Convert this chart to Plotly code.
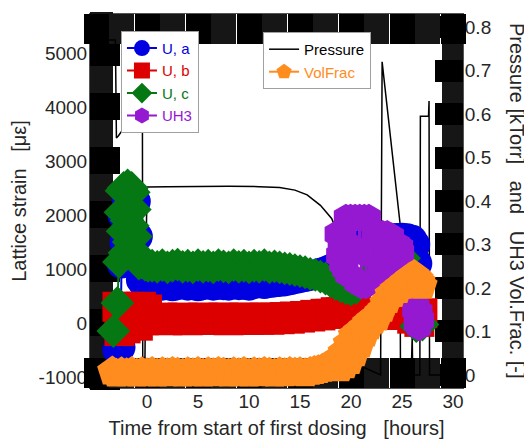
import plotly.graph_objects as go

# ---------------- data ----------------
x_tickvals = [-5, 0, 5, 10, 15, 20, 25, 30]
x_ticktext = ['', '0', '5', '10', '15', '20', '25', '30']
strain_tickvals = [-1000, 0, 1000, 2000, 3000, 4000, 5000]
strain_ticktext = ['-1000', '0', '1000', '2000', '3000', '4000', '5000']
right_tickvals = [0, 0.1, 0.2, 0.3, 0.4, 0.5, 0.6, 0.7, 0.8]
right_ticktext = ['0', '0.1', '0.2', '0.3', '0.4', '0.5', '0.6', '0.7', '0.8']

# Pressure [kTorr]
p_time = [-5.5, -3.1, -3.0, -2.8, -2.4, -1.5, -0.45, -0.42, -0.2, -0.15, 0.0, 2.0, 5.0, 8.0,
          11.0, 13.0, 14.5, 15.7, 17.0, 18.1, 19.0, 20.0, 20.5, 21.0, 22.9, 23.05, 24.8, 24.85,
          25.9, 25.95, 26.0, 26.05, 26.75, 26.8, 27.6, 27.65, 27.7, 30.5]
p_ktorr = [0.77, 0.77, 0.545, 0.55, 0.563, 0.563, 0.563, 0.04, 0.04, 0.2, 0.432, 0.433, 0.434, 0.434,
           0.433, 0.431, 0.425, 0.414, 0.39, 0.36, 0.31, 0.2, 0.1, 0.02, 0.0, 0.72, 0.35, 0.0,
           0.0, 0.09, 0.09, 0.0, 0.0, 0.595, 0.595, 0.63, 0.0, 0.0]

# U, a lattice strain [micro-strain]
ua_time = [-2.9, -2.6, -2.5, -2.4, -2.2, -2.0, -1.7, -1.4, -1.1, -0.9, -0.6, -0.3, 0.0,
           0.5, 1.0, 1.5, 2.0, 2.5, 3.0, 3.5, 4.0, 4.5, 5.0, 5.5, 6.0, 6.5, 7.0, 7.5, 8.0, 8.5,
           9.0, 9.5, 10.0, 10.5, 11.0, 11.5, 12.0, 12.5, 13.0, 13.5, 14.0, 14.5, 15.0, 15.5,
           16.0, 16.5, 17.0, 17.5, 18.0, 18.5, 19.5, 20.5, 21.5, 22.5, 23.5, 24.0, 24.5, 25.0,
           25.5, 26.0, 26.3, 26.5, 26.6]
ua_strain = [-500, -450, 1100, 2000, 1500, 2300, 1800, 2300, 2250, 1600, 800, 720, 700,
             800, 700, 690, 710, 680, 700, 720, 690, 710, 680, 700, 720, 690, 710, 700, 690, 720,
             700, 710, 690, 720, 740, 720, 740, 750, 760, 770, 790, 810, 830, 850,
             870, 900, 930, 960, 1000, 1040, 1300, 1400, 1500, 1550, 1560, 1570, 1575, 1580,
             1570, 1540, 1450, 1100, 300]

# U, b
ub_time = [-2.9, -2.7, -2.4, -2.1, -1.8, -1.5, -1.2, -0.9, -0.6, -0.3, 0.0,
           0.5, 1.0, 1.5, 2.0, 2.5, 3.0, 3.5, 4.0, 4.5, 5.0, 5.5, 6.0, 6.5, 7.0, 7.5, 8.0, 8.5,
           9.0, 9.5, 10.0, 10.5, 11.0, 11.5, 12.0, 12.5, 13.0, 13.5, 14.0, 14.5, 15.0, 15.5,
           16.0, 16.5, 17.0, 17.5, 18.0, 18.5, 19.0, 19.5, 20.0, 20.5, 21.0, 22.0, 23.0, 24.0,
           25.0, 25.6, 26.0, 26.4, 26.7, 27.0]
ub_strain = [300, -150, 250, -100, 300, 0, 280, -50, 300, 50, 250,
             80, 60, 100, 50, 90, 60, 100, 50, 90, 60, 100, 55, 95, 60, 100, 50, 95,
             60, 100, 55, 95, 60, 100, 60, 100, 70, 110, 80, 120, 100, 130,
             120, 150, 140, 170, 170, 200, 200, 220, 220, 230, 200, 160, 150, 150,
             160, 200, 80, 250, 20, 180]

# U, c
uc_time = [-3.3, -2.9, -2.75, -2.6, -2.5, -2.4, -2.3, -2.2, -2.1, -2.0, -1.9, -1.8, -1.7,
           -1.6, -1.5, -1.4, -1.3, -1.2, -1.1, -1.0, -0.8, -0.5, -0.2, 0.1,
           0.5, 1.0, 1.5, 2.0, 2.5, 3.0, 3.5, 4.0, 4.5, 5.0, 5.5, 6.0, 6.5, 7.0, 7.5, 8.0, 8.5,
           9.0, 9.5, 10.0, 10.5, 11.0, 11.5, 12.0, 12.5, 13.0, 13.5, 14.0, 14.5, 15.0, 15.5,
           16.0, 16.5, 17.0, 17.5, 18.0, 18.5, 19.0, 19.5, 20.0, 20.5, 21.5, 22.5, 23.5, 24.5,
           25.2, 26.4, 27.0]
uc_strain = [-150, 370, 1130, 2050, 2450, 1700, 2500, 1300, 2480, 1900, 2550, 1500, 2500,
             2100, 2500, 1800, 2420, 2100, 1600, 1300, 1100, 1120, 1080, 1060,
             1060, 1040, 1070, 1030, 1060, 1080, 1040, 1060, 1030, 1070, 1040, 1060, 1030, 1070,
             1050, 1030, 1070, 1040, 1060, 1030, 1060, 1040, 1070, 1030, 1050, 1030, 1010, 1000,
             980, 960, 940, 910, 890, 860, 820, 770, 720, 680, 640, 620, 650, 800, 1000, 1200,
             1300, 1200, -60, -30]

# UH3
uh3_time = [18.6, 18.75, 18.9, 19.05, 19.2, 19.35, 19.5, 19.65, 19.8, 19.95, 20.1, 20.25, 20.4,
            20.55, 20.7, 20.85, 21.0, 21.15, 21.3, 21.45, 21.6, 21.75, 21.9, 22.05, 22.2, 22.35,
            22.5, 22.65, 22.8, 22.95, 23.1, 23.25, 23.4, 23.55, 23.7, 23.85, 24.0, 24.15, 24.3,
            24.45, 24.6, 24.75, 24.9, 25.0, 26.2, 26.35, 26.5, 26.65, 26.8, 26.95]
uh3_strain = [1650, 1250, 1450, 1100, 1700, 1000, 1950, 900, 1450, 1950, 850, 1400, 1950,
              750, 1350, 1950, 700, 1300, 1950, 700, 1300, 1950, 750, 1350, 1650, 800,
              1200, 1650, 900, 1300, 1650, 950, 1300, 1650, 1000, 1300, 1600, 1050, 1450,
              1200, 1450, 1250, 1400, 1300, 250, 0, 300, -80, 200, 50]

# UH3 volume fraction [-]
vf_time = [-3.4, -3.0, -2.5, -2.0, -1.5, -1.0, -0.5, 0.0, 0.5, 1.0, 1.5, 2.0, 2.5, 3.0, 3.5,
           4.0, 4.5, 5.0, 5.5, 6.0, 6.5, 7.0, 7.5, 8.0, 8.5, 9.0, 9.5, 10.0, 10.5, 11.0, 11.5,
           12.0, 12.5, 13.0, 13.5, 14.0, 14.5, 15.0, 15.5, 16.0, 16.4, 16.8, 17.2, 17.5, 17.9,
           18.2, 18.5, 18.7, 18.9, 19.2, 19.4, 19.7, 19.9, 20.2, 20.4, 20.7, 20.9, 21.2, 21.4,
           21.6, 21.8, 22.0, 22.2, 22.4, 22.6, 22.8, 23.1, 23.3, 23.6, 23.8, 24.1, 24.3, 24.6,
           24.8, 25.1, 25.3, 25.6, 25.8, 26.0, 26.2, 26.4, 26.6, 26.8, 27.0]
vf_frac = [0.008, 0.003, 0.006, 0.004, 0.007, 0.003, 0.006, 0.004, 0.007, 0.003, 0.006, 0.004,
           0.007, 0.005, 0.003, 0.006, 0.004, 0.007, 0.003, 0.006, 0.004, 0.007, 0.005, 0.003,
           0.006, 0.004, 0.007, 0.003, 0.006, 0.004, 0.007, 0.005, 0.003, 0.006, 0.004, 0.007,
           0.005, 0.006, 0.004, 0.007, 0.009, 0.011, 0.014, 0.018, 0.022,
           0.028, 0.020, 0.038, 0.015, 0.052, 0.022, 0.072, 0.032, 0.090, 0.050, 0.100, 0.070,
           0.110, 0.095, 0.120, 0.112, 0.128, 0.125, 0.135, 0.132, 0.145, 0.152, 0.165, 0.172,
           0.185, 0.186, 0.196, 0.195, 0.205, 0.205, 0.215, 0.215, 0.224, 0.226, 0.230, 0.225,
           0.220, 0.214, 0.205]

# ---------------- style ----------------
FONT = 'Liberation Sans, Arial, sans-serif'
C_A, C_B, C_C, C_H, C_V = '#0000E1', '#DC0000', '#057814', '#9619D2', '#FF8C1E'
TXT = '#262626'
BAND_DARK = '#161616'


def lbl(text, color):
    return '<span style="color:%s">%s</span>' % (color, text)


fig = go.Figure()

fig.add_trace(go.Scatter(x=p_time, y=p_ktorr, mode='lines', name=lbl('Pressure', '#000000'),
                         line=dict(color='black', width=1.5), yaxis='y', legend='legend2'))


def strain_trace(t, v, name, color, symbol, size):
    return go.Scatter(x=t, y=v, mode='lines+markers', name=lbl(name, color),
                      line=dict(color=color, width=2),
                      marker=dict(color=color, symbol=symbol, size=size, line=dict(width=0)),
                      yaxis='y2', legend='legend')


fig.add_trace(strain_trace(ua_time, ua_strain, 'U, a', C_A, 'circle', 30))
fig.add_trace(strain_trace(ub_time, ub_strain, 'U, b', C_B, 'square', 30))
fig.add_trace(strain_trace(uc_time, uc_strain, 'U, c', C_C, 'diamond', 26))
fig.add_trace(strain_trace(uh3_time, uh3_strain, 'UH3', C_H, 'hexagon', 28))

fig.add_trace(go.Scatter(x=vf_time, y=vf_frac, mode='lines+markers', name=lbl('VolFrac', C_V),
                         line=dict(color=C_V, width=2),
                         marker=dict(color=C_V, symbol='pentagon', size=32, line=dict(width=0)),
                         yaxis='y3', legend='legend2'))

tickfont = dict(family=FONT, size=19, color=TXT)
titlefont = dict(family=FONT, size=20, color=TXT)
NB = '\u00a0'

# the page body has an 8 px default margin: the figure is sized to fit inside the window
fig.update_layout(
    width=524, height=431,
    margin=dict(l=82, r=69, t=6, b=51, autoexpand=False),
    paper_bgcolor='white', plot_bgcolor='white',
    showlegend=True,
    xaxis=dict(
        range=[-5.59, 30.98], tickmode='array', tickvals=x_tickvals, ticktext=x_ticktext,
        ticks='inside', ticklen=30, tickwidth=25, tickcolor='black',
        minor=dict(tick0=0, dtick=2.5, ticks='inside', ticklen=23, tickwidth=25, tickcolor=BAND_DARK),
        showline=True, linewidth=1, linecolor='#555555', mirror='allticks',
        showgrid=False, zeroline=False, layer='below traces', automargin=False,
        tickfont=tickfont, ticklabelstandoff=-4,
        title=dict(text='Time from start of first dosing' + NB * 3 + '[hours]', font=titlefont, standoff=15),
    ),
    yaxis=dict(
        range=[-0.030, 0.830], side='right', tickmode='array', tickvals=right_tickvals,
        ticktext=right_ticktext,
        ticks='inside', ticklen=28, tickwidth=22, tickcolor='black',
        minor=dict(tick0=0, dtick=0.05, ticks='inside', ticklen=21, tickwidth=22, tickcolor=BAND_DARK),
        showline=True, linewidth=1, linecolor='#555555',
        showgrid=False, zeroline=False, layer='below traces', automargin=False,
        tickfont=tickfont, ticklabelstandoff=-3,
    ),
    yaxis2=dict(
        range=[-1204, 5722], overlaying='y', side='left', tickmode='array',
        tickvals=strain_tickvals, ticktext=strain_ticktext,
        ticks='inside', ticklen=30, tickwidth=27, tickcolor='black',
        minor=dict(tick0=0, dtick=500, ticks='inside', ticklen=23, tickwidth=27, tickcolor=BAND_DARK),
        showline=True, linewidth=1, linecolor='#555555',
        showgrid=False, zeroline=False, layer='below traces', automargin=False,
        tickfont=tickfont, ticklabelstandoff=-2,
        title=dict(text='Lattice strain' + NB * 3 + '[\u03bc\u03b5]', font=titlefont, standoff=10),
    ),
    yaxis3=dict(
        range=[-0.030, 0.830], overlaying='y', side='right', visible=False,
        showgrid=False, zeroline=False,
    ),
    legend=dict(
        x=0.083, y=0.955, xanchor='left', yanchor='top', bgcolor='white',
        bordercolor='#A0A0A0', borderwidth=1, font=dict(family=FONT, size=15),
        tracegroupgap=0, itemwidth=30,
    ),
    legend2=dict(
        x=0.464, y=0.952, xanchor='left', yanchor='top', bgcolor='white',
        bordercolor='#A0A0A0', borderwidth=1, font=dict(family=FONT, size=15),
        tracegroupgap=0, itemwidth=30,
    ),
    annotations=[dict(
        text='Pressure [kTorr]' + NB * 3 + 'and' + NB * 3 + 'UH3 Vol.Frac. [-]',
        xref='paper', yref='paper', x=1.145, y=0.5, xanchor='center', yanchor='middle',
        textangle=90, showarrow=False, font=titlefont,
    )],
)

fig.write_html('out.html')
